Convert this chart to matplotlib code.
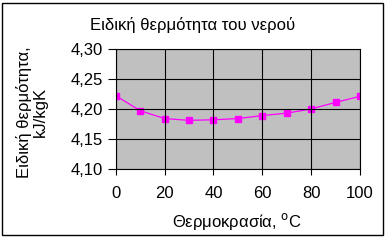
import matplotlib.pyplot as plt
from matplotlib.patches import Rectangle

plt.rcParams['font.family'] = ['Liberation Sans', 'DejaVu Sans']

temperature = [0, 10, 20, 30, 40, 50, 60, 70, 80, 90, 100]
cp = [4.222, 4.197, 4.184, 4.181, 4.182, 4.184, 4.189, 4.193, 4.200, 4.211, 4.221]
yticks = [4.10, 4.15, 4.20, 4.25, 4.30]
xticks = [0, 20, 40, 60, 80, 100]

fig = plt.figure(figsize=(3.9, 2.4), dpi=100)
fig.patch.set_facecolor('white')

# chart border (Excel style)
fig.add_artist(Rectangle((0.006, 0.021), 0.976, 0.967, transform=fig.transFigure,
                         fill=False, edgecolor='black', lw=1.0))

ax = fig.add_axes([0.297, 0.296, 0.626, 0.5])
ax.set_facecolor('#c0c0c0')
ax.plot(temperature, cp, color='#ff00ff', lw=0.9, marker='s', ms=4.5,
        mec='#ff00ff', mfc='#ff00ff')

ax.set_xlim(0, 100)
ax.set_ylim(4.10, 4.30)
ax.set_xticks(xticks)
ax.set_yticks(yticks)
ax.set_yticklabels([('%.2f' % v).replace('.', ',') for v in yticks])
ax.grid(True, color='black', lw=0.8)
ax.set_axisbelow(False)
for s in ax.spines.values():
    s.set_linewidth(0.8)
ax.tick_params(direction='out', width=0.8, labelsize=12)
ax.tick_params(axis='y', length=6, pad=3)
ax.tick_params(axis='x', length=4, pad=8)

fig.text(0.494, 0.896, 'Ειδική θερμότητα του νερού', ha='center', va='center', fontsize=12)
fig.text(0.607, 0.075, r'Θερμοκρασία, $^{\rm o}$C', ha='center', va='center', fontsize=12)
fig.text(0.082, 0.533, 'Ειδική θερμότητα,\nkJ/kgK', ha='center', va='center',
         rotation=90, fontsize=12, linespacing=1.0)

fig.savefig('out.png', dpi=100)
